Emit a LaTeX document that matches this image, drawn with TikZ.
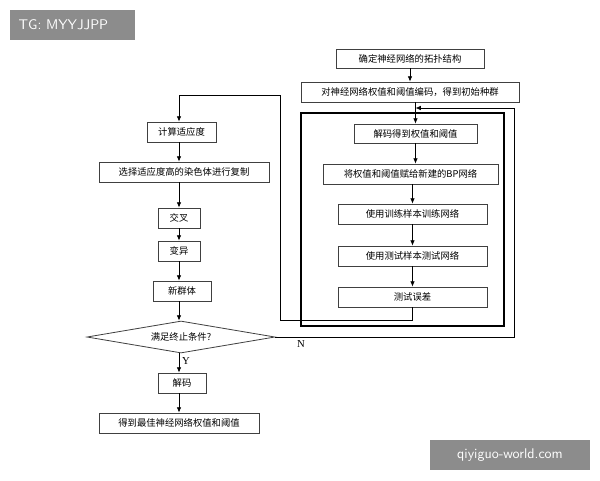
\documentclass[tikz,border=0pt]{standalone}
\usepackage{fontspec}
\setmainfont{Liberation Serif}
\newfontfamily\cjk{Noto Sans CJK SC}
\usetikzlibrary{arrows.meta,shapes.geometric}
\begin{document}
\begin{tikzpicture}[x=0.75pt,y=-0.75pt,
  box/.style={draw=black!75,line width=0.6pt,font=\cjk\fontsize{7}{8}\selectfont,inner sep=0pt},
  ar/.style={-{Latex[length=4pt,width=3.5pt]},line width=0.6pt},
  ln/.style={line width=0.6pt}]
\useasboundingbox (0,0) rectangle (600,480);
\fill[white] (0,0) rectangle (600,480);
% right column
\node[box,minimum width=148*0.75pt,minimum height=19*0.75pt] (t1) at (410,58.5) {确定神经网络的拓扑结构};
\node[box,minimum width=218*0.75pt,minimum height=20*0.75pt] (t2) at (410,92) {对神经网络权值和阈值编码，得到初始种群};
\draw[line width=2.2pt] (301,113) rectangle (504,326);
\node[box,minimum width=123*0.75pt,minimum height=19*0.75pt] (r1) at (415.5,133.5) {解码得到权值和阈值};
\node[box,minimum width=175*0.75pt,minimum height=20*0.75pt] (r2) at (410.5,174) {将权值和阈值赋给新建的BP网络};
\node[box,minimum width=149*0.75pt,minimum height=20*0.75pt] (r3) at (412.5,214) {使用训练样本训练网络};
\node[box,minimum width=149*0.75pt,minimum height=20*0.75pt] (r4) at (412.5,256) {使用测试样本测试网络};
\node[box,minimum width=149*0.75pt,minimum height=20*0.75pt] (r5) at (412.5,297) {测试误差};
\draw[ar] (t1.south) -- (t1.south|-t2.north);
\draw[ar] (t2.south-|r1.north) -- (r1.north);
\draw[ar] (r1) -- (r1.south|-r2.north);
\draw[ar] (r2.south-|r3.north) -- (r3);
\draw[ar] (r3) -- (r4);
\draw[ar] (r4) -- (r5);
% left column
\node[box,minimum width=69*0.75pt,minimum height=20*0.75pt] (l1) at (181.5,132) {计算适应度};
\node[box,minimum width=170*0.75pt,minimum height=20*0.75pt] (l2) at (184,172) {选择适应度高的染色体进行复制};
\node[box,minimum width=42*0.75pt,minimum height=20*0.75pt] (l3) at (179,218) {交叉};
\node[box,minimum width=42*0.75pt,minimum height=20*0.75pt] (l4) at (179,251) {变异};
\node[box,minimum width=58*0.75pt,minimum height=20*0.75pt] (l5) at (182,291) {新群体};
\node[box,diamond,aspect=5.9,minimum width=188*0.75pt,minimum height=32*0.75pt] (d) at (181,337) {满足终止条件?};
\node[box,minimum width=48*0.75pt,minimum height=20*0.75pt] (l6) at (182,383) {解码};
\node[box,minimum width=160*0.75pt,minimum height=20*0.75pt] (l7) at (179,423) {得到最佳神经网络权值和阈值};
\coordinate (x) at (179,0);
\draw[ar] (x|-l1.south) -- (x|-l2.north);
\draw[ar] (x|-l2.south) -- (x|-l3.north);
\draw[ar] (x|-l3.south) -- (x|-l4.north);
\draw[ar] (x|-l4.south) -- (x|-l5.north);
\draw[ar] (x|-l5.south) -- (x|-d.north);
\draw[ar] (x|-d.south) -- node[right,font=\fontsize{8}{9}\selectfont,inner sep=2pt,pos=0.4]{Y} (x|-l6.north);
\draw[ar] (x|-l6.south) -- (x|-l7.north);
% loops
\coordinate (f1) at (280,320);
\coordinate (f2) at (280,95);
\draw[ar] (r5.south) |- (f1) -- (f2) -| (x|-l1.north);
\coordinate (n1) at (514,337);
\coordinate (n2) at (514,108);
\draw[ar] (d.east) -- (n1) -- (n2) -- (r1.north|-n2);
\node[font=\fontsize{8}{9}\selectfont] at (301,344) {N};
% watermarks
\fill[black!45] (10,10) rectangle (135,40);
\node[white,font=\sffamily\fontsize{10.5}{12}\selectfont,anchor=west] at (14,25) {TG: MYYJJPP};
\fill[black!45] (430,440) rectangle (590,470);
\node[white,font=\sffamily\fontsize{10.5}{12}\selectfont] at (510,455) {qiyiguo-world.com};
\end{tikzpicture}
\end{document}
